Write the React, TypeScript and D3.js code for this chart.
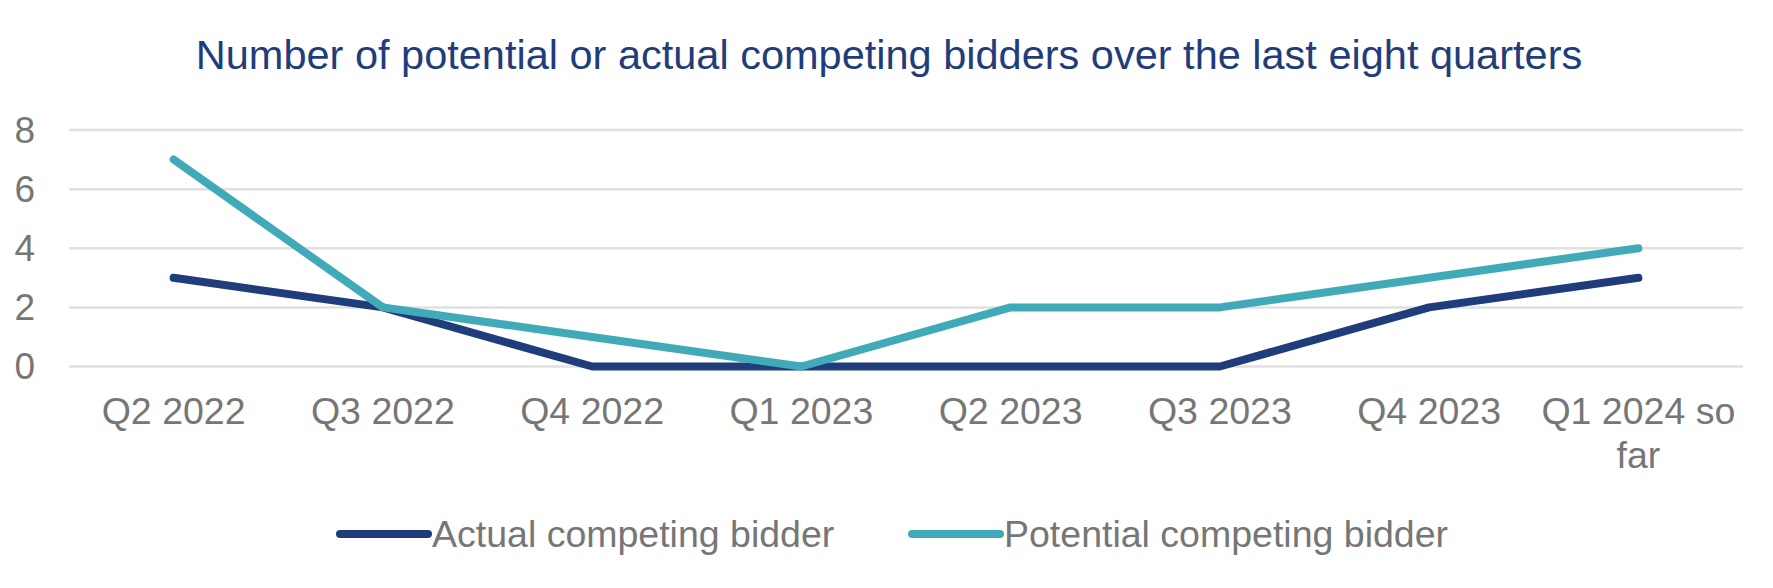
import React, { useEffect, useRef } from 'react';
import * as d3 from 'd3';

const quarters = [
  'Q2 2022',
  'Q3 2022',
  'Q4 2022',
  'Q1 2023',
  'Q2 2023',
  'Q3 2023',
  'Q4 2023',
  'Q1 2024 so far',
];
const actualBidders = [3, 2, 0, 0, 0, 0, 2, 3];
const potentialBidders = [7, 2, 1, 0, 2, 2, 3, 4];
const yTicks = [0, 2, 4, 6, 8];

const seriesNames = ['Actual competing bidder', 'Potential competing bidder'];
const seriesColors = ['#1F3D7A', '#41AAB8'];

const textGray = '#767676';
const font = 'Arial, "Liberation Sans", sans-serif';

const App: React.FC = () => {
  const chartRef = useRef<SVGSVGElement | null>(null);

  useEffect(() => {
    if (!chartRef.current) return;

    const width = 1773;
    const height = 588;
    const margin = { top: 130, right: 30, bottom: 221.5, left: 69 };

    const root = d3.select(chartRef.current);
    root.selectAll('*').remove();
    root.attr('width', width).attr('height', height);

    root
      .append('rect')
      .attr('width', width)
      .attr('height', height)
      .attr('fill', '#fff');

    root
      .append('text')
      .attr('x', 889)
      .attr('y', 69)
      .attr('text-anchor', 'middle')
      .style('font-family', font)
      .style('font-size', '41.5px')
      .style('fill', '#1F3D7A')
      .text('Number of potential or actual competing bidders over the last eight quarters');

    const x = d3
      .scaleBand<string>()
      .domain(quarters)
      .range([margin.left, width - margin.right]);

    const y = d3
      .scaleLinear()
      .domain([0, 8])
      .range([height - margin.bottom, margin.top]);

    const cx = (i: number) => x(quarters[i])! + x.bandwidth() / 2;

    // gridlines
    root
      .append('g')
      .selectAll('line')
      .data(yTicks)
      .join('line')
      .attr('x1', margin.left)
      .attr('x2', width - margin.right)
      .attr('y1', (d) => y(d))
      .attr('y2', (d) => y(d))
      .style('stroke', '#E0E0E0')
      .style('stroke-width', 2.5);

    // y labels
    root
      .append('g')
      .selectAll('text')
      .data(yTicks)
      .join('text')
      .attr('x', 35)
      .attr('y', (d) => y(d))
      .attr('dy', '0.35em')
      .attr('text-anchor', 'end')
      .style('font-family', font)
      .style('font-size', '37px')
      .style('fill', textGray)
      .text((d) => d);

    // x labels (wrap the last one like the original)
    const xLabels = root.append('g');
    quarters.forEach((q, i) => {
      const lines = q === 'Q1 2024 so far' ? ['Q1 2024 so', 'far'] : [q];
      const t = xLabels
        .append('text')
        .attr('x', cx(i))
        .attr('y', 424)
        .attr('text-anchor', 'middle')
        .style('font-family', font)
        .style('font-size', '37.5px')
        .style('fill', textGray);
      lines.forEach((l, j) => {
        t.append('tspan')
          .attr('x', cx(i))
          .attr('dy', j === 0 ? 0 : 44)
          .text(l);
      });
    });

    const line = d3
      .line<number>()
      .x((_, i) => cx(i))
      .y((d) => y(d));

    [actualBidders, potentialBidders].forEach((values, i) => {
      root
        .append('path')
        .datum(values)
        .attr('d', line)
        .style('fill', 'none')
        .style('stroke', seriesColors[i])
        .style('stroke-width', 8)
        .style('stroke-linecap', 'round')
        .style('stroke-linejoin', 'round');
    });

    // legend
    const legendX = [340, 912];
    const legendY = 534;
    seriesNames.forEach((name, i) => {
      const g = root.append('g').attr('transform', `translate(${legendX[i]},${legendY})`);
      g.append('line')
        .attr('x1', 0)
        .attr('x2', 88)
        .attr('y1', 0)
        .attr('y2', 0)
        .style('stroke', seriesColors[i])
        .style('stroke-width', 8)
        .style('stroke-linecap', 'round');
      g.append('text')
        .attr('x', 92)
        .attr('y', 12.5)
        .style('font-family', font)
        .style('font-size', '37.5px')
        .style('fill', textGray)
        .text(name);
    });
  }, []);

  return (
    <svg
      ref={chartRef}
      style={{ position: 'absolute', left: 0, top: 0, display: 'block' }}
    ></svg>
  );
};

export default App;
